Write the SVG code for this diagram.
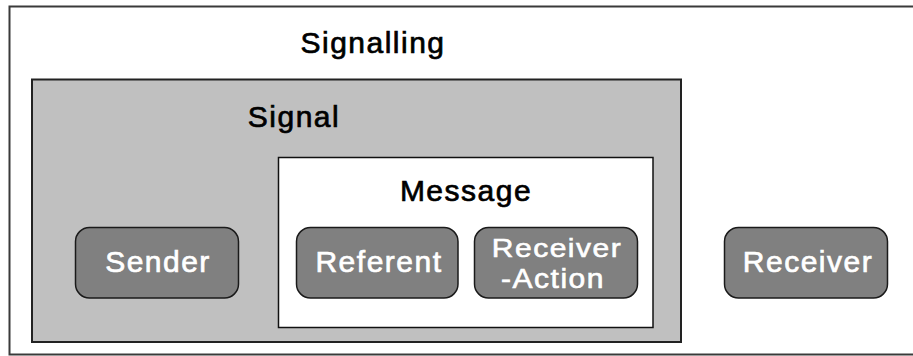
<svg xmlns="http://www.w3.org/2000/svg" width="913" height="356" viewBox="0 0 913 356">
<style>
.t{font-family:"Liberation Sans",Arial,sans-serif;font-size:30px;letter-spacing:1.5px;text-anchor:middle;stroke-width:0.7px}
.dark{fill:#000;stroke:#000}
.light{fill:#fff;stroke:#fff}
.node{fill:#808080;stroke:#1a1a1a;stroke-width:1.5}
</style>
<rect width="913" height="356" fill="#fff"/>
<g id="signalling">
<rect x="9.5" y="6.5" width="920" height="348" fill="#fff" stroke="#3a3a3a" stroke-width="2"/>
<text class="t dark" x="373" y="53">Signalling</text>
</g>
<g id="signal">
<rect x="32" y="79.5" width="649" height="262.5" fill="#c0c0c0" stroke="#222" stroke-width="2"/>
<text class="t dark" x="294" y="127">Signal</text>
</g>
<g id="message">
<rect x="278.5" y="157.5" width="374.5" height="170" fill="#fff" stroke="#111" stroke-width="1.5"/>
<text class="t dark" x="466" y="200.5">Message</text>
</g>
<g id="sender">
<rect class="node" x="75.5" y="227.5" width="163" height="70.5" rx="14"/>
<text class="t light" x="158" y="272">Sender</text>
</g>
<g id="referent">
<rect class="node" x="296.5" y="227.5" width="161.5" height="70.5" rx="14"/>
<text class="t light" x="379" y="272">Referent</text>
</g>
<g id="receiver-action">
<rect class="node" x="474.5" y="227.5" width="163" height="70.5" rx="14"/>
<text class="t light" transform="translate(557,257) scale(1,0.85)" x="0" y="0">Receiver</text>
<text class="t light" transform="translate(553,288) scale(1,0.92)" x="0" y="0">-Action</text>
</g>
<g id="receiver">
<rect class="node" x="724.5" y="227.5" width="163" height="70.5" rx="14"/>
<text class="t light" x="808" y="272">Receiver</text>
</g>
<g id="connectors"></g>
</svg>
